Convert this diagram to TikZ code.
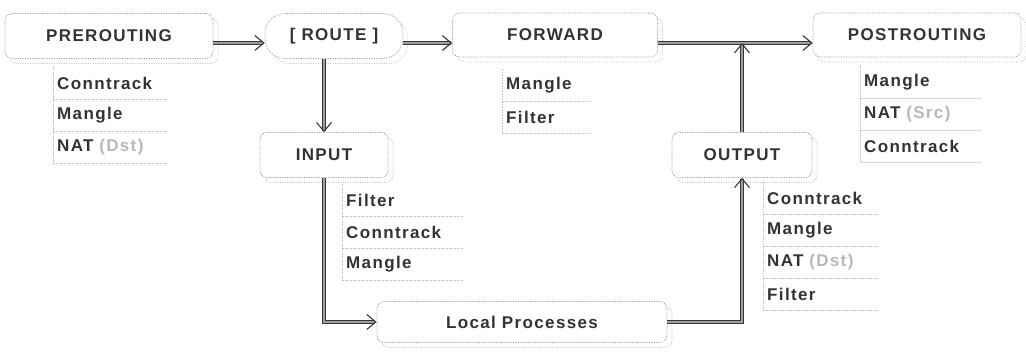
\documentclass[tikz,border=0pt]{standalone}
\usepackage{fontspec}
\setmainfont{Liberation Sans}
\newfontfamily\hookfont[LetterSpace=8]{Liberation Sans}
\usetikzlibrary{arrows.meta,shadows}
\tikzset{>={Straight Barb[length=9pt,width=15pt,line width=1.1pt]}}

\definecolor{boxline}{gray}{0.58}
\definecolor{boxshade}{gray}{0.76}
\definecolor{wire}{gray}{0.22}
\definecolor{wirecore}{gray}{0.62}
\definecolor{hooktext}{gray}{0.2}
\definecolor{nattag}{gray}{0.72}

\newcommand{\nat}[1]{NAT {\color{nattag}(#1)}}

\tikzset{
  chain/.style={draw=boxline, densely dotted, line width=0.7pt, fill=white,
    rounded corners=7pt, inner sep=0pt, text=hooktext,
    font=\hookfont\bfseries\fontsize{17}{20}\selectfont,
    general shadow={shadow xshift=5pt, shadow yshift=-5pt, draw=boxshade, densely dotted}},
  wire/.style={draw=wire, double=wirecore, double distance=1.3pt, line width=0.9pt, ->},
  entry/.style={anchor=west, inner sep=0pt, minimum height=32pt, text=hooktext,
    font=\hookfont\bfseries\fontsize{17}{20}\selectfont},
  sepline/.style={draw=boxshade, densely dotted, line width=0.6pt}
}

% one list of tables under a hook: name, left, top, width, entries
\newcommand{\hooklist}[5]{%
  \foreach \entry [count=\k] in {#5}{
    \node[entry, text width=#4pt] (#1\k) at (#2,{#3+32*(\k-0.5)}) {\kern4pt\entry};
    \draw[sepline] (#1\k.north west) -- (#1\k.south west) -- (#1\k.south east);
  }}

\begin{document}
\begin{tikzpicture}[x=1pt,y=-1pt]
\useasboundingbox (0,0) rectangle (1026,351);

% hooks
\node[chain, minimum width=208pt, minimum height=45pt] (pre) at (109,36) {PREROUTING};
\node[chain, rounded corners=20pt, minimum width=138pt, minimum height=45pt] (route) at (334,36) {[ ROUTE ]};
\node[chain, minimum width=205pt, minimum height=44pt] (fwd) at (555,35) {FORWARD};
\node[chain, minimum width=208pt, minimum height=44pt] (post) at (917,35) {POSTROUTING};
\node[chain, minimum width=128pt, minimum height=45pt] (in) at (324,155) {INPUT};
\node[chain, minimum width=140pt, minimum height=45pt] (out) at (742,155) {OUTPUT};
\node[chain, minimum width=290pt, minimum height=41pt] (local) at (522,322) {Local Processes};

% tables on each hook
\hooklist{pl}{53}{67}{114}{Conntrack, Mangle, \nat{Dst}}
\hooklist{fl}{502}{69}{88}{Mangle, Filter}
\hooklist{ol}{860}{66}{120}{Mangle, \nat{Src}, Conntrack}
\hooklist{il}{342}{184}{120}{Filter, Conntrack, Mangle}
\hooklist{ul}{763}{182}{115}{Conntrack, Mangle, \nat{Dst}, Filter}

% packet path
\coordinate (rail) at (0,43);
\draw[wire] (pre.east |- rail) -- (route.west |- rail);
\draw[wire] (route.east |- rail) -- (fwd.west |- rail);
\draw[wire] (fwd.east |- rail) -- (post.west |- rail);
\draw[wire] (route.south -| in.north) -- (in.north);
\draw[wire] (in.south) |- (local.west);
\draw[wire] (local.east) -| (out.south);
\draw[wire] (out.north) -- (out.north |- rail);
\end{tikzpicture}
\end{document}
